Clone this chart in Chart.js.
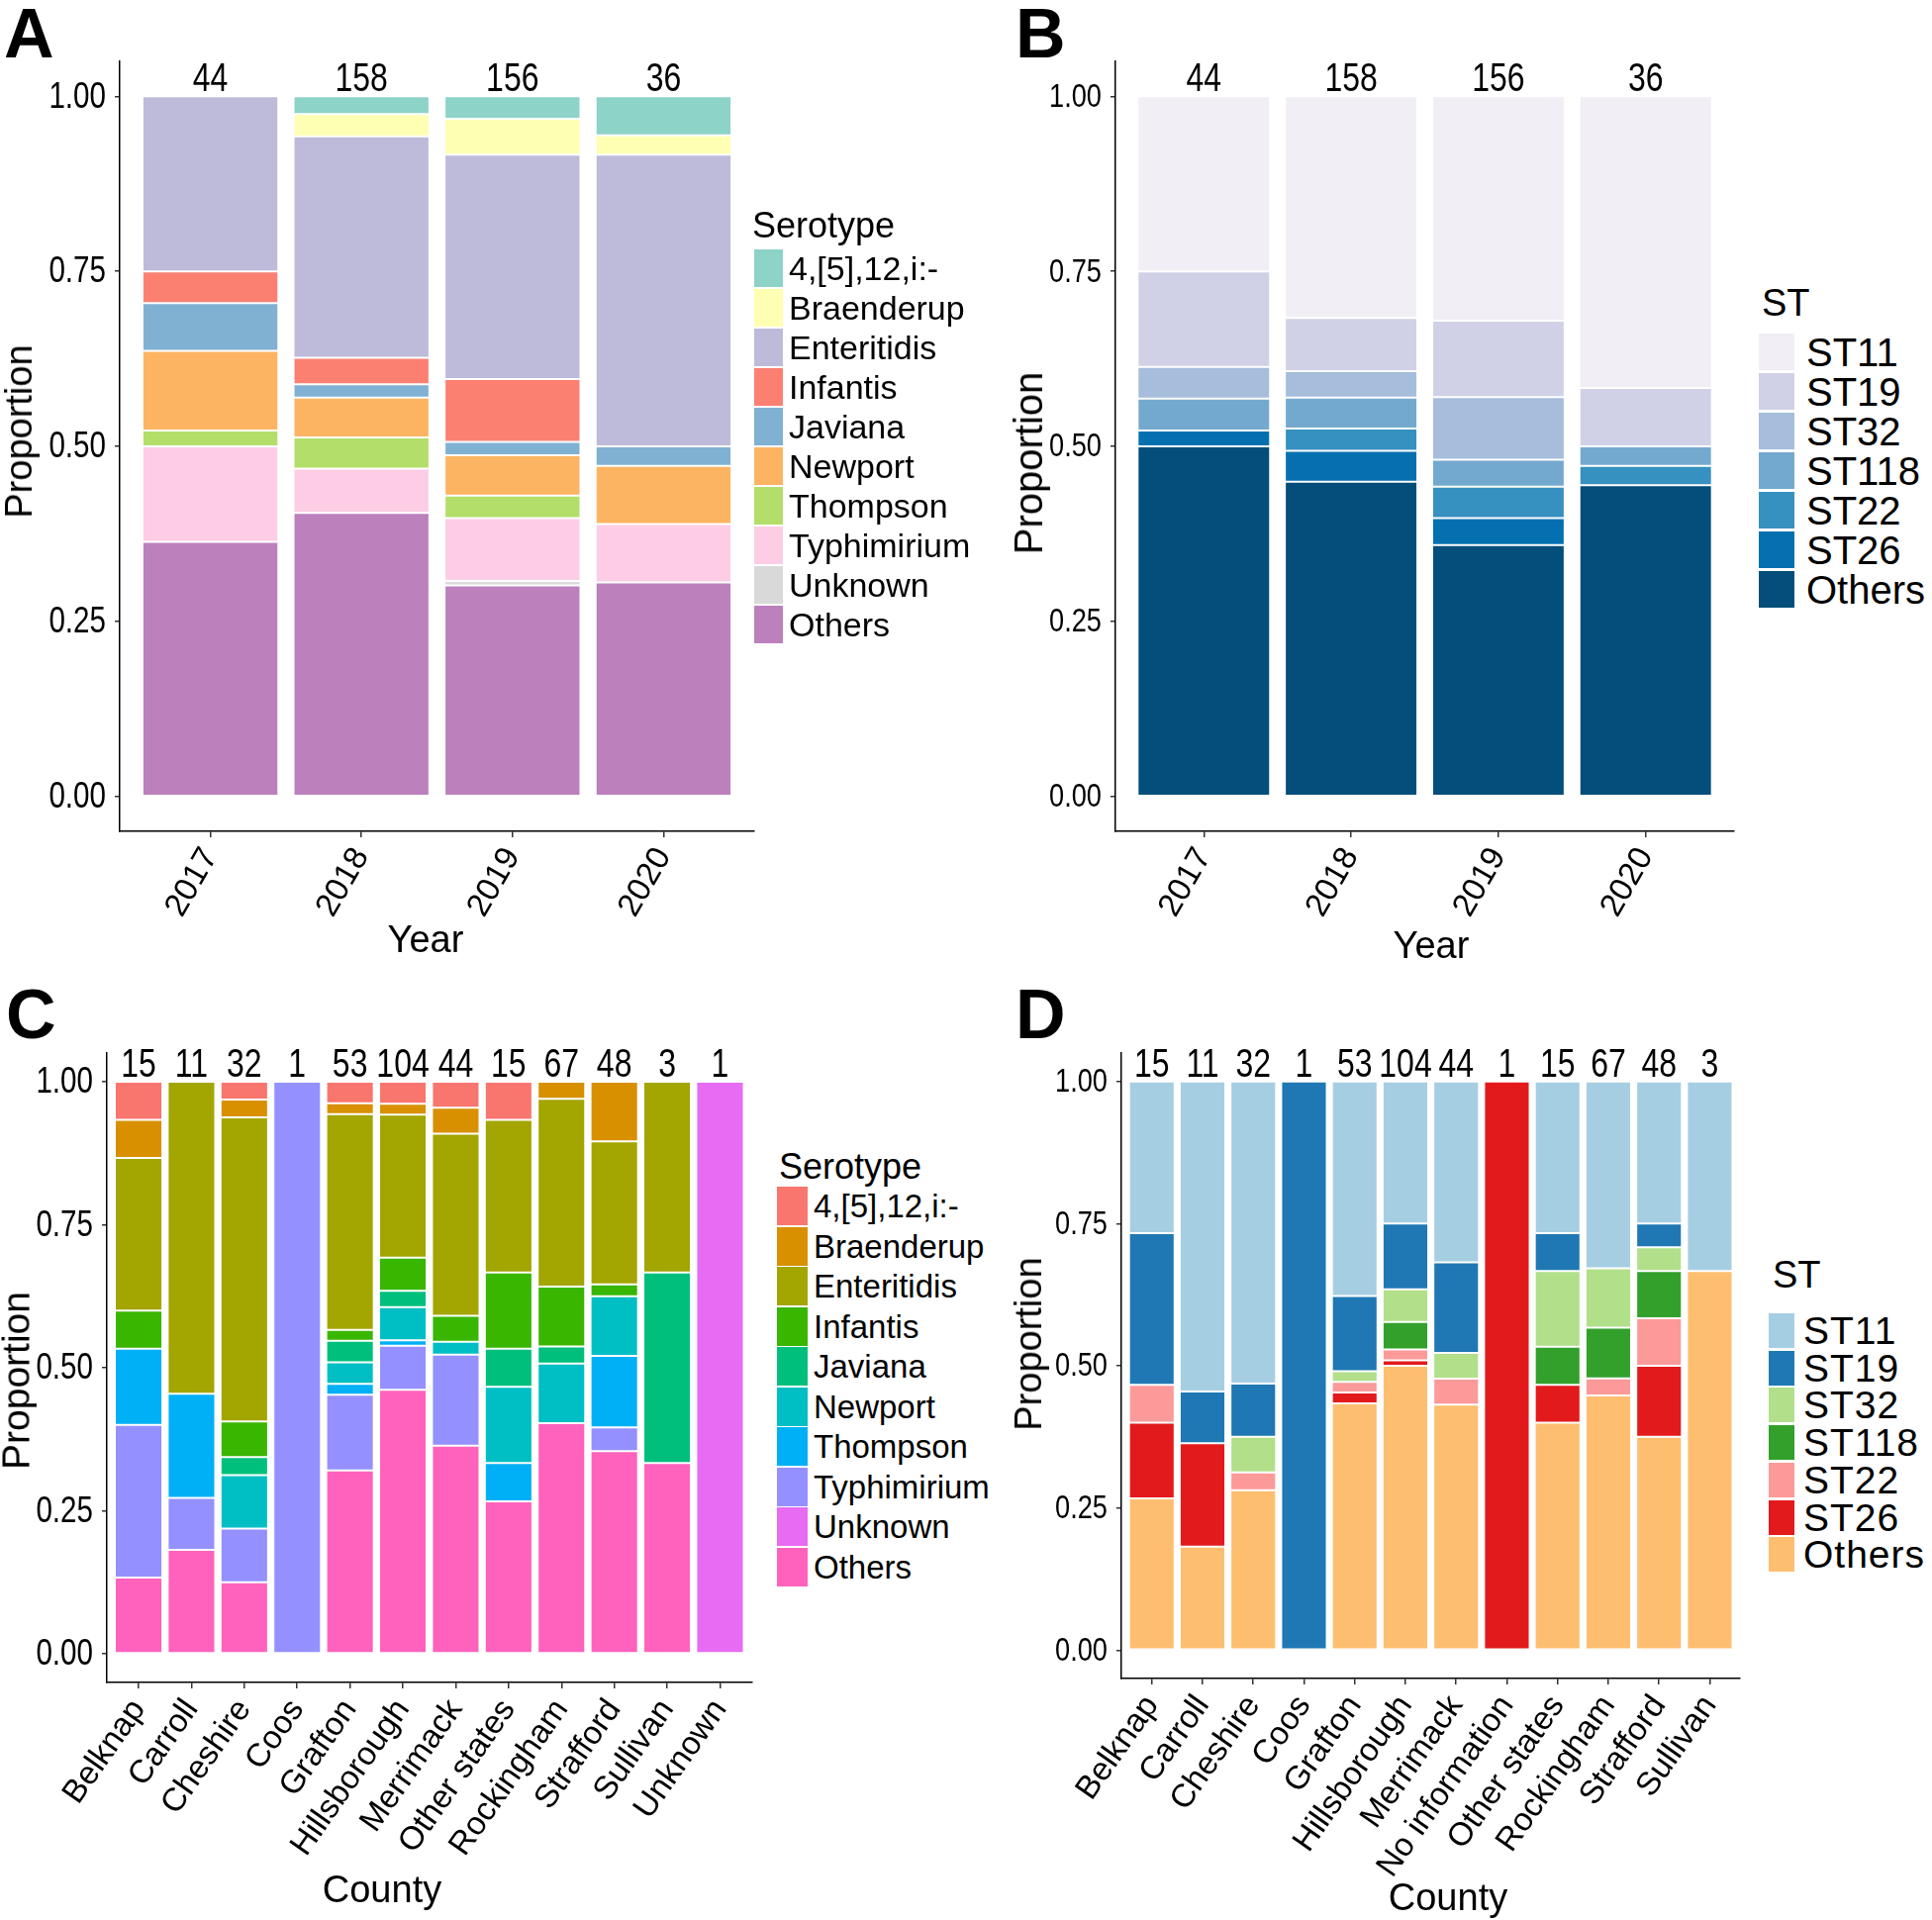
<!DOCTYPE html>
<html>
<head>
<meta charset="utf-8">
<script src="https://cdn.jsdelivr.net/npm/chart.js@4.4.1/dist/chart.umd.min.js"></script>
<style>
  body { margin: 0; background: #fff; width: 1952px; height: 1940px; position: relative; overflow: hidden;
         font-family: "Liberation Sans", Arial, sans-serif; color: #000; }
  canvas { position: absolute; }
  .tag { position: absolute; font-weight: bold; font-size: 70px; line-height: 1; }
  .lg { position: absolute; white-space: nowrap; line-height: 1; }
  .ttl { position: absolute; white-space: nowrap; line-height: 1; transform: translate(-50%, -50%); }
</style>
</head>
<body>
<div class="tag" style="left:4px;top:-1px">A</div>
<div class="tag" style="left:1026px;top:-1px">B</div>
<div class="tag" style="left:6px;top:990px">C</div>
<div class="tag" style="left:1026px;top:990px">D</div>

<canvas id="chartA" width="768" height="972" style="left:-4px;top:0px"></canvas>
<canvas id="chartB" width="734" height="978" style="left:1020px;top:0px"></canvas>
<canvas id="chartC" width="771" height="932" style="left:-7px;top:1000px"></canvas>
<canvas id="chartD" width="744" height="940" style="left:1020px;top:1000px"></canvas>

<script>
// ================= DATA =================
const years = ["2017", "2018", "2019", "2020"];
const countiesC = ["Belknap", "Carroll", "Cheshire", "Coos", "Grafton", "Hillsborough", "Merrimack",
  "Other states", "Rockingham", "Strafford", "Sullivan", "Unknown"];
const countiesD = ["Belknap", "Carroll", "Cheshire", "Coos", "Grafton", "Hillsborough", "Merrimack",
  "No information", "Other states", "Rockingham", "Strafford", "Sullivan"];

const serotypes = ["4,[5],12,i:-", "Braenderup", "Enteritidis", "Infantis", "Javiana", "Newport",
  "Thompson", "Typhimirium", "Unknown", "Others"];
const sequenceTypes = ["ST11", "ST19", "ST32", "ST118", "ST22", "ST26", "Others"];

// isolate counts, one row per serotype / ST, one column per year or county
const serotypeByYear = [
  [0, 4, 5, 2],      // 4,[5],12,i:-
  [0, 5, 8, 1],      // Braenderup
  [11, 50, 50, 15],  // Enteritidis
  [2, 6, 14, 0],     // Infantis
  [3, 3, 3, 1],      // Javiana
  [5, 9, 9, 3],      // Newport
  [1, 7, 5, 0],      // Thompson
  [6, 10, 14, 3],    // Typhimirium
  [0, 0, 1, 0],      // Unknown
  [16, 64, 47, 11],  // Others
];
const stByYear = [
  [11, 50, 50, 15],  // ST11
  [6, 12, 17, 3],    // ST19
  [2, 6, 14, 0],     // ST32
  [2, 7, 6, 1],      // ST118
  [0, 5, 7, 1],      // ST22
  [1, 7, 6, 0],      // ST26
  [22, 71, 56, 16],  // Others
];
const serotypeByCounty = [
  [1, 0, 1, 0, 2, 4, 2, 1, 0, 0, 0, 0],
  [1, 0, 1, 0, 1, 2, 2, 0, 2, 5, 0, 0],
  [4, 6, 17, 0, 20, 26, 14, 4, 22, 12, 1, 0],
  [1, 0, 2, 0, 1, 6, 2, 2, 7, 1, 0, 0],
  [0, 0, 1, 0, 2, 3, 0, 1, 2, 0, 1, 0],
  [0, 0, 3, 0, 2, 6, 1, 2, 7, 5, 0, 0],
  [2, 2, 0, 0, 1, 1, 0, 1, 0, 6, 0, 0],
  [4, 1, 3, 1, 7, 8, 7, 0, 0, 2, 0, 0],
  [0, 0, 0, 0, 0, 0, 0, 0, 0, 0, 0, 1],
  [2, 2, 4, 0, 17, 48, 16, 4, 27, 17, 1, 0],
];
const stByCounty = [
  [4, 6, 17, 0, 20, 26, 14, 0, 4, 22, 12, 1],
  [4, 1, 3, 1, 7, 12, 7, 0, 1, 0, 2, 0],
  [0, 0, 2, 0, 1, 6, 2, 0, 2, 7, 2, 0],
  [0, 0, 0, 0, 0, 5, 0, 0, 1, 6, 4, 0],
  [1, 0, 1, 0, 1, 2, 2, 0, 0, 2, 4, 0],
  [2, 2, 0, 0, 1, 1, 0, 1, 1, 0, 6, 0],
  [4, 2, 9, 0, 23, 52, 19, 0, 6, 30, 18, 2],
];
const yTicks = [0, 0.25, 0.5, 0.75, 1];

// ================= COLOURS =================
const set3 = ["#8DD3C7", "#FFFFB3", "#BEBADA", "#FB8072", "#80B1D3", "#FDB462", "#B3DE69", "#FCCDE5", "#D9D9D9", "#BC80BD"];
const pubu = ["#F1EEF6", "#D0D1E6", "#A6BDDB", "#74A9CF", "#3690C0", "#0570B0", "#034E7B"];
const hue10 = ["#F8766D", "#D89000", "#A3A500", "#39B600", "#00BF7D", "#00BFC4", "#00B0F6", "#9590FF", "#E76BF3", "#FF62BC"];
const paired = ["#A6CEE3", "#1F78B4", "#B2DF8A", "#33A02C", "#FB9A99", "#E31A1C", "#FDBF6F"];

const FONT = '"Liberation Sans", Arial, sans-serif';
const SQUEEZE = 0.8; // the original uses a condensed face for numbers

// ================= CHART =================
// n labels above the bars and y tick labels, both squeezed
const numbersPlugin = {
  id: "numbers",
  afterDraw(chart, args, opts) {
    const { ctx, chartArea, scales: { x, y } } = chart;
    ctx.save();
    ctx.fillStyle = "#000";

    ctx.font = opts.size + "px " + FONT;
    ctx.textAlign = "center";
    ctx.textBaseline = "alphabetic";
    opts.totals.forEach((t, i) => {
      ctx.save();
      ctx.translate(x.getPixelForValue(i), y.getPixelForValue(1) - opts.gap);
      ctx.scale(SQUEEZE, 1);
      ctx.fillText(String(t), 0, 0);
      ctx.restore();
    });

    ctx.font = opts.tickSize + "px " + FONT;
    ctx.textAlign = "right";
    ctx.textBaseline = "middle";
    yTicks.forEach((v) => {
      ctx.save();
      ctx.translate(chartArea.left - 14, y.getPixelForValue(v) + 1);
      ctx.scale(SQUEEZE, 1);
      ctx.fillText(v.toFixed(2), 0, 0);
      ctx.restore();
    });
    ctx.restore();
  },
};

function makeChart(id, cats, groups, counts, colors, cfg) {
  const totals = cats.map((c, i) => counts.reduce((s, row) => s + row[i], 0));
  const datasets = groups.map((g, k) => ({
    label: g,
    data: counts[k].map((v, i) => ({ x: i, y: v ? v / totals[i] : null })),
    backgroundColor: colors[k],
    borderColor: "rgba(255,255,255,0.45)",
    borderWidth: 1,
    borderSkipped: false,
    barPercentage: 0.9,
    categoryPercentage: 1,
  })).reverse(); // first level sits on top of the stack

  return new Chart(document.getElementById(id), {
    type: "bar",
    data: { datasets },
    plugins: [numbersPlugin],
    options: {
      responsive: false,
      animation: false,
      layout: { padding: { top: cfg.padTop, right: 2, left: 0, bottom: 0 } },
      plugins: {
        legend: { display: false },
        tooltip: { enabled: false },
        numbers: { totals, size: 40, gap: 5, tickSize: cfg.tickSize },
      },
      scales: {
        x: {
          type: "linear",
          stacked: true,
          offset: false,
          min: -0.6,
          max: cats.length - 0.4,
          afterBuildTicks: (s) => { s.ticks = cats.map((c, i) => ({ value: i })); },
          afterFit: (s) => { s.height = cfg.xHeight; },
          ticks: {
            autoSkip: false,
            minRotation: cfg.rot,
            maxRotation: cfg.rot,
            padding: 4,
            color: "#000",
            font: { family: FONT, size: cfg.xFont },
            callback: (v) => cats[v],
          },
          grid: { display: true, drawOnChartArea: false, offset: false, tickLength: 6, color: "#333", lineWidth: 1.5 },
          border: { display: true, color: "#000", width: 1.5 },
        },
        y: {
          stacked: true,
          min: -0.05,
          max: 1.05,
          afterBuildTicks: (s) => { s.ticks = yTicks.map((v) => ({ value: v })); },
          afterFit: (s) => { s.width = cfg.yWidth; },
          ticks: { display: false },
          grid: { display: true, drawOnChartArea: false, tickLength: 5, color: "#333", lineWidth: 1.5 },
          border: { display: true, color: "#000", width: 1.5 },
        },
      },
    },
  });
}

// ================= TEXT / LEGENDS =================
function addTitle(text, cx, cy, size, vertical) {
  const d = document.createElement("div");
  d.className = "ttl";
  d.textContent = text;
  d.style.cssText = `left:${cx}px;top:${cy}px;font-size:${size}px` +
    (vertical ? ";transform:translate(-50%,-50%) rotate(-90deg)" : "");
  document.body.appendChild(d);
}

function addLegend(title, names, colors, o) {
  const t = document.createElement("div");
  t.className = "lg";
  t.textContent = title;
  t.style.cssText = `left:${o.titleX}px;top:${o.titleY - o.titleSize * 0.5}px;font-size:${o.titleSize}px`;
  document.body.appendChild(t);
  names.forEach((n, i) => {
    const top = o.top + i * o.step;
    const box = document.createElement("div");
    box.className = "lg";
    box.style.cssText = `left:${o.boxX}px;top:${top}px;width:${o.boxW}px;height:${o.boxH}px;background:${colors[i]}`;
    document.body.appendChild(box);
    const lab = document.createElement("div");
    lab.className = "lg";
    lab.textContent = n;
    lab.style.cssText = `left:${o.textX}px;top:${top + o.boxH / 2 - o.textSize * 0.5}px;font-size:${o.textSize}px;letter-spacing:${o.spacing || 0}px`;
    document.body.appendChild(lab);
  });
}

window.onload = () => {
  makeChart("chartA", years, serotypes, serotypeByYear, set3,
    { padTop: 62, yWidth: 125, xHeight: 132, rot: 60, xFont: 33, tickSize: 37 });
  makeChart("chartB", years, sequenceTypes, stByYear, pubu,
    { padTop: 62, yWidth: 107, xHeight: 138, rot: 60, xFont: 33, tickSize: 34 });
  makeChart("chartC", countiesC, serotypes, serotypeByCounty, hue10,
    { padTop: 64, yWidth: 115, xHeight: 232, rot: 55, xFont: 33, tickSize: 37 });
  makeChart("chartD", countiesD, sequenceTypes, stByCounty, paired,
    { padTop: 64, yWidth: 113, xHeight: 244, rot: 55, xFont: 33, tickSize: 34 });

  addTitle("Year", 430, 949, 38);
  addTitle("Year", 1446, 955, 38);
  addTitle("County", 386, 1909, 38);
  addTitle("County", 1463, 1917, 38);
  addTitle("Proportion", 19, 436, 38, true);
  addTitle("Proportion", 1039, 468, 40, true);
  addTitle("Proportion", 16, 1395, 39, true);
  addTitle("Proportion", 1039, 1358, 38, true);

  addLegend("Serotype", serotypes, set3,
    { titleX: 760, titleY: 228, titleSize: 36, boxX: 762, boxW: 29, boxH: 38, top: 252, step: 40, textX: 797, textSize: 34 });
  addLegend("ST", sequenceTypes, pubu,
    { titleX: 1780, titleY: 306, titleSize: 38, boxX: 1777, boxW: 36, boxH: 37, top: 337, step: 40, textX: 1825, textSize: 40 });
  addLegend("Serotype", serotypes, hue10,
    { titleX: 787, titleY: 1179, titleSize: 36, boxX: 785, boxW: 31, boxH: 39, top: 1199, step: 40.5, textX: 822, textSize: 33 });
  addLegend("ST", sequenceTypes, paired,
    { titleX: 1791, titleY: 1288, titleSize: 38, boxX: 1787, boxW: 26, boxH: 35, top: 1327, step: 37.7, textX: 1822, textSize: 39, spacing: 1 });
};
</script>
</body>
</html>
